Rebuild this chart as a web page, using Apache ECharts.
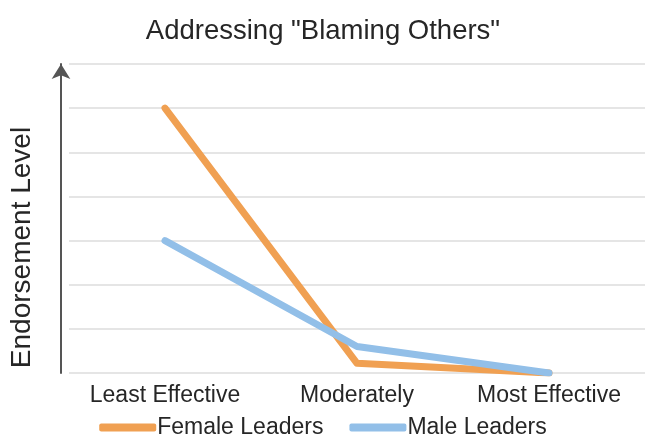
<!DOCTYPE html>
<html><head><meta charset="utf-8">
<script src="https://cdn.jsdelivr.net/npm/echarts@6/dist/echarts.min.js"></script>
<style>html,body{margin:0;padding:0;background:#fff}#c{width:646px;height:447px}</style>
</head><body><div id="c"></div>
<script>
const categories = ["Least Effective", "Moderately", "Most Effective"];
const femaleLeaders = [6.0, 0.22, 0.0];
const maleLeaders = [3.0, 0.6, 0.0];
const seriesNames = ["Female Leaders", "Male Leaders"];

const chart = echarts.init(document.getElementById('c'), null, {renderer: 'canvas'});
const font = '"Liberation Sans", Arial, Helvetica, sans-serif';
chart.setOption({
  animation: false,
  backgroundColor: '#fff',
  textStyle: {fontFamily: font, color: '#262626'},
  title: {
    text: 'Addressing "Blaming Others"',
    left: 'center', top: 12,
    textStyle: {fontFamily: font, fontSize: 27.5, fontWeight: 'normal', color: '#262626'}
  },
  grid: {left: 69, right: 1, top: 64, bottom: 74, containLabel: false, outerBoundsMode: 'none'},
  legend: {
    data: seriesNames,
    bottom: 3, left: 'center',
    icon: 'roundRect', itemWidth: 57, itemHeight: 8, itemGap: 26,
    textStyle: {fontFamily: font, fontSize: 23, color: '#262626', padding: [0,0,0,-4]}
  },
  xAxis: {
    type: 'category', data: categories, boundaryGap: true,
    axisLine: {show: false}, axisTick: {show: false},
    axisLabel: {interval: 0, fontFamily: font, fontSize: 23, color: '#262626', margin: 11}
  },
  yAxis: {
    type: 'value', min: 0, max: 7, interval: 1,
    name: 'Endorsement Level', nameLocation: 'middle', nameRotate: 90, nameGap: 25,
    nameTextStyle: {fontFamily: font, fontSize: 28, color: '#262626', padding: [0, 58, 0, 0]},
    offset: 8,
    axisLabel: {show: false}, axisTick: {show: false},
    axisLine: {show: true, symbol: ['none', 'arrow'], symbolSize: [14, 15], symbolOffset: [0, 0],
      lineStyle: {color: '#555', width: 2}},
    splitLine: {lineStyle: {color: '#dcdcdc', width: 1.5}}
  },
  series: [
    {name: seriesNames[0], type: 'line', data: femaleLeaders, symbol: 'none',
     color: '#F0A052',
     lineStyle: {width: 7, color: '#F0A052', cap: 'round', join: 'round'}},
    {name: seriesNames[1], type: 'line', data: maleLeaders, symbol: 'none',
     color: '#92BFE8',
     lineStyle: {width: 7, color: '#92BFE8', cap: 'round', join: 'round'}}
  ]
});
</script></body></html>
